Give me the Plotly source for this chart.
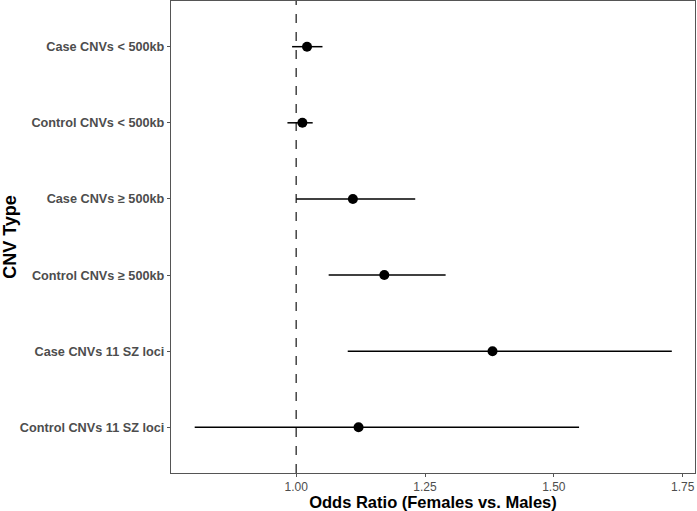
import plotly.graph_objects as go

categories = ["Case CNVs < 500kb", "Control CNVs < 500kb", "Case CNVs ≥ 500kb",
              "Control CNVs ≥ 500kb", "Case CNVs 11 SZ loci", "Control CNVs 11 SZ loci"]
odds_ratio = [1.021, 1.012, 1.110, 1.171, 1.381, 1.121]
ci_lower = [0.992, 0.983, 1.000, 1.063, 1.100, 0.803]
ci_upper = [1.051, 1.032, 1.231, 1.290, 1.729, 1.549]
x_ticks = [1.00, 1.25, 1.50, 1.75]
x_tick_labels = ["1.00", "1.25", "1.50", "1.75"]

err_plus = [u - o for u, o in zip(ci_upper, odds_ratio)]
err_minus = [o - l for o, l in zip(odds_ratio, ci_lower)]

fig = go.Figure()
fig.add_vline(x=1.0, line=dict(color="#444444", width=1.5, dash="dash"), layer="below")
fig.add_trace(go.Scatter(
    x=odds_ratio, y=categories, mode="markers",
    marker=dict(color="black", size=10),
    error_x=dict(type="data", symmetric=False, array=err_plus, arrayminus=err_minus,
                 color="black", thickness=1.5, width=0),
    showlegend=False, hoverinfo="x+y",
))

fig.update_layout(
    width=697, height=511,
    margin=dict(l=171, r=2, t=1, b=38),
    paper_bgcolor="white", plot_bgcolor="white",
    font=dict(family="Liberation Sans, Arial, sans-serif"),
    xaxis=dict(
        range=[0.757, 1.774], tickvals=x_ticks, ticktext=x_tick_labels,
        automargin=False,
        showgrid=False, zeroline=False, showline=True, mirror=True,
        linecolor="#555555", linewidth=1.2,
        ticks="outside", ticklen=3, tickcolor="#555555",
        ticklabelstandoff=-1,
        tickfont=dict(size=12, color="#4d4d4d"),
        title=dict(text="<b>Odds Ratio (Females vs. Males)</b>", standoff=0,
                   font=dict(size=16.5, color="black")),
    ),
    yaxis=dict(
        type="category", categoryorder="array", categoryarray=categories[::-1],
        range=[-0.6, 5.6], automargin=False,
        showgrid=False, zeroline=False, showline=True, mirror=True,
        linecolor="#555555", linewidth=1.2,
        ticks="outside", ticklen=3, tickcolor="#555555",
        tickfont=dict(size=12.7, color="#4d4d4d", weight="bold"),
        title=dict(text="<b>CNV Type</b>", standoff=8,
                   font=dict(size=18, color="black")),
    ),
)

fig.write_html("out.html", config={"displayModeBar": False},
               post_script="document.body.style.margin='0px';document.body.style.padding='0px';")
